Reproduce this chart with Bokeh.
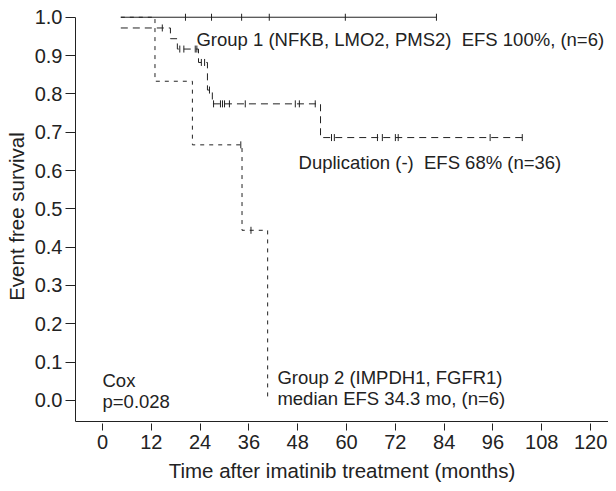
import numpy as np
from bokeh.plotting import figure
from bokeh.models import FixedTicker, Range1d
from bokeh.embed import file_html
from bokeh.resources import INLINE
from bokeh.core.properties import value

# ---- data (months, event-free survival) ----
g1_t = [4.5, 82.1]
g1_s = [1.0, 1.0]
g1_cens_t = [20.4, 26.8, 34.2, 41.0, 59.7, 82.1]
g1_cens_s = [1.0, 1.0, 1.0, 1.0, 1.0, 1.0]

g2_t = [4.5, 12.9, 22.1, 34.3, 40.6]
g2_s = [1.0, 0.833, 0.667, 0.444, 0.0]
g2_cens_t = [34.0, 36.5]
g2_cens_s = [0.667, 0.444]

dup_t = [4.5, 16.7, 18.4, 23.6, 25.8, 27.0, 53.6, 103.2]
dup_s = [0.972, 0.944, 0.917, 0.882, 0.810, 0.774, 0.686, 0.686]
dup_cens_t = [14.7, 19.0, 20.0, 22.8, 23.2, 24.3, 25.1, 26.3,
              27.3, 29.0, 29.5, 30.0, 31.2, 35.1, 47.4, 48.4, 52.3,
              56.3, 57.0, 67.6, 68.8, 72.0, 72.7, 95.3, 103.2]
dup_cens_s = [0.972, 0.917, 0.917, 0.917, 0.917, 0.882, 0.882, 0.810,
              0.774, 0.774, 0.774, 0.774, 0.774, 0.774, 0.774, 0.774, 0.774,
              0.686, 0.686, 0.686, 0.686, 0.686, 0.686, 0.686, 0.686]

x_ticks = [0, 12, 24, 36, 48, 60, 72, 84, 96, 108, 120]
y_ticks = [0.0, 0.1, 0.2, 0.3, 0.4, 0.5, 0.6, 0.7, 0.8, 0.9, 1.0]
y_tick_labels = ["0.0", "0.1", "0.2", "0.3", "0.4", "0.5", "0.6", "0.7", "0.8", "0.9", "1.0"]

x_title = "Time after imatinib treatment (months)"
y_title = "Event free survival"

labels = ["Group 1 (NFKB, LMO2, PMS2)\u00a0 EFS 100%, (n=6)",
          "Duplication (-)\u00a0 EFS 68% (n=36)",
          "Group 2 (IMPDH1, FGFR1)",
          "median EFS 34.3 mo, (n=6)",
          "Cox",
          "p=0.028"]
label_x = [23.1, 48.2, 43.0, 43.0, 0.0, 0.0]
label_y = [0.943, 0.622, 0.061, 0.004, 0.053, -0.004]

FONT = "Liberation Sans"
INK = "#222222"

x_lo, x_hi = -6.64, 124.4
y_lo, y_hi = -0.055, 1.015

p = figure(width=608, height=484,
           x_range=Range1d(x_lo, x_hi), y_range=Range1d(y_lo, y_hi),
           output_backend="svg", toolbar_location=None,
           min_border_left=75, min_border_right=0,
           min_border_top=11, min_border_bottom=63)
p.outline_line_color = None
p.xgrid.visible = False
p.ygrid.visible = False
p.background_fill_color = "white"
p.border_fill_color = "white"

# curves
p.step(g1_t, g1_s, mode="after", line_color=INK, line_width=1)
p.step(g2_t, g2_s, mode="after", line_color=INK, line_width=1, line_dash="4 5")
p.step(dup_t, dup_s, mode="after", line_color=INK, line_width=1, line_dash="7 5")

# censor marks
for ct, cs in [(g1_cens_t, g1_cens_s), (g2_cens_t, g2_cens_s), (dup_cens_t, dup_cens_s)]:
    p.scatter(ct, cs, marker="dash", angle=np.pi / 2, size=7,
              line_color=INK, line_width=1)

# annotations
p.text(x=label_x, y=label_y, text=labels, text_font=value(FONT),
       text_font_size="18.5px", text_color=INK,
       text_align="left", text_baseline="alphabetic")

# axes
for ax in (p.xaxis[0], p.yaxis[0]):
    ax.axis_line_color = INK
    ax.axis_line_width = 1
    ax.major_tick_line_color = INK
    ax.minor_tick_line_color = None
    ax.major_label_text_font = FONT
    ax.major_label_text_font_size = "20px"
    ax.major_label_text_color = INK
    ax.axis_label_text_font = FONT
    ax.axis_label_text_font_size = "20.5px"
    ax.axis_label_text_font_style = "normal"
    ax.axis_label_text_color = INK

p.xaxis.ticker = FixedTicker(ticks=x_ticks)
p.xaxis.major_tick_in = -2
p.xaxis.major_tick_out = 9
p.xaxis.major_label_standoff = 4
p.xaxis.axis_label = x_title
p.xaxis.axis_label_standoff = 7

p.yaxis.ticker = FixedTicker(ticks=y_ticks)
p.yaxis.major_label_overrides = {t: l for t, l in zip(y_ticks, y_tick_labels)}
p.yaxis.bounds = (y_lo, 1.0)
p.yaxis.major_tick_in = 0
p.yaxis.major_tick_out = 10
p.yaxis.major_label_standoff = 3
p.yaxis.axis_label = y_title
p.yaxis.axis_label_standoff = 4

open("out.html", "w").write(file_html(p, INLINE))
